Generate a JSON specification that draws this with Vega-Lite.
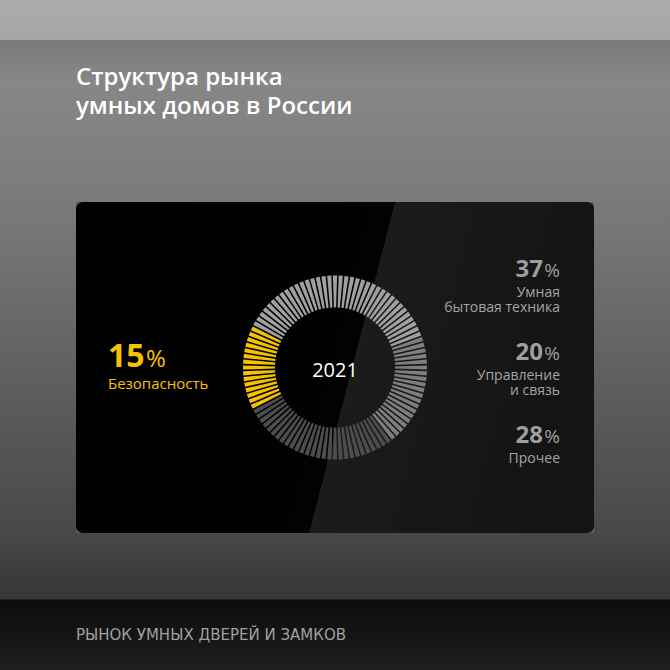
{
  "$schema": "https://vega.github.io/schema/vega-lite/v6.json",
  "padding": 0,
  "background": "#5e5e5e",
  "spacing": 0,
  "config": {"view": {"stroke": null}, "concat": {"spacing": 0}},
  "datasets": {
    "segments": [
      {"cat": "Умная бытовая техника", "i": 1}, {"cat": "Умная бытовая техника", "i": 2}, {"cat": "Умная бытовая техника", "i": 3}, {"cat": "Умная бытовая техника", "i": 4}, {"cat": "Умная бытовая техника", "i": 5},
      {"cat": "Умная бытовая техника", "i": 6}, {"cat": "Умная бытовая техника", "i": 7}, {"cat": "Умная бытовая техника", "i": 8}, {"cat": "Умная бытовая техника", "i": 9}, {"cat": "Умная бытовая техника", "i": 10},
      {"cat": "Умная бытовая техника", "i": 11}, {"cat": "Умная бытовая техника", "i": 12}, {"cat": "Умная бытовая техника", "i": 13}, {"cat": "Умная бытовая техника", "i": 14}, {"cat": "Умная бытовая техника", "i": 15},
      {"cat": "Умная бытовая техника", "i": 16}, {"cat": "Умная бытовая техника", "i": 17}, {"cat": "Умная бытовая техника", "i": 18}, {"cat": "Умная бытовая техника", "i": 19}, {"cat": "Умная бытовая техника", "i": 20},
      {"cat": "Умная бытовая техника", "i": 21}, {"cat": "Умная бытовая техника", "i": 22}, {"cat": "Умная бытовая техника", "i": 23}, {"cat": "Умная бытовая техника", "i": 24}, {"cat": "Умная бытовая техника", "i": 25},
      {"cat": "Умная бытовая техника", "i": 26}, {"cat": "Умная бытовая техника", "i": 27}, {"cat": "Умная бытовая техника", "i": 28}, {"cat": "Умная бытовая техника", "i": 29}, {"cat": "Умная бытовая техника", "i": 30},
      {"cat": "Умная бытовая техника", "i": 31}, {"cat": "Умная бытовая техника", "i": 32}, {"cat": "Умная бытовая техника", "i": 33}, {"cat": "Умная бытовая техника", "i": 34}, {"cat": "Умная бытовая техника", "i": 35},
      {"cat": "Умная бытовая техника", "i": 36}, {"cat": "Умная бытовая техника", "i": 37},
      {"cat": "Управление и связь", "i": 38}, {"cat": "Управление и связь", "i": 39}, {"cat": "Управление и связь", "i": 40}, {"cat": "Управление и связь", "i": 41}, {"cat": "Управление и связь", "i": 42},
      {"cat": "Управление и связь", "i": 43}, {"cat": "Управление и связь", "i": 44}, {"cat": "Управление и связь", "i": 45}, {"cat": "Управление и связь", "i": 46}, {"cat": "Управление и связь", "i": 47},
      {"cat": "Управление и связь", "i": 48}, {"cat": "Управление и связь", "i": 49}, {"cat": "Управление и связь", "i": 50}, {"cat": "Управление и связь", "i": 51}, {"cat": "Управление и связь", "i": 52},
      {"cat": "Управление и связь", "i": 53}, {"cat": "Управление и связь", "i": 54}, {"cat": "Управление и связь", "i": 55}, {"cat": "Управление и связь", "i": 56}, {"cat": "Управление и связь", "i": 57},
      {"cat": "Прочее", "i": 58}, {"cat": "Прочее", "i": 59}, {"cat": "Прочее", "i": 60}, {"cat": "Прочее", "i": 61}, {"cat": "Прочее", "i": 62},
      {"cat": "Прочее", "i": 63}, {"cat": "Прочее", "i": 64}, {"cat": "Прочее", "i": 65}, {"cat": "Прочее", "i": 66}, {"cat": "Прочее", "i": 67},
      {"cat": "Прочее", "i": 68}, {"cat": "Прочее", "i": 69}, {"cat": "Прочее", "i": 70}, {"cat": "Прочее", "i": 71}, {"cat": "Прочее", "i": 72},
      {"cat": "Прочее", "i": 73}, {"cat": "Прочее", "i": 74}, {"cat": "Прочее", "i": 75}, {"cat": "Прочее", "i": 76}, {"cat": "Прочее", "i": 77},
      {"cat": "Прочее", "i": 78}, {"cat": "Прочее", "i": 79}, {"cat": "Прочее", "i": 80}, {"cat": "Прочее", "i": 81}, {"cat": "Прочее", "i": 82},
      {"cat": "Прочее", "i": 83}, {"cat": "Прочее", "i": 84}, {"cat": "Прочее", "i": 85},
      {"cat": "Безопасность", "i": 86}, {"cat": "Безопасность", "i": 87}, {"cat": "Безопасность", "i": 88}, {"cat": "Безопасность", "i": 89}, {"cat": "Безопасность", "i": 90},
      {"cat": "Безопасность", "i": 91}, {"cat": "Безопасность", "i": 92}, {"cat": "Безопасность", "i": 93}, {"cat": "Безопасность", "i": 94}, {"cat": "Безопасность", "i": 95},
      {"cat": "Безопасность", "i": 96}, {"cat": "Безопасность", "i": 97}, {"cat": "Безопасность", "i": 98}, {"cat": "Безопасность", "i": 99}, {"cat": "Безопасность", "i": 100}
    ],
    "labels": [
      {"cat": "Умная бытовая техника", "name": "Умная\nбытовая техника", "pct": 37, "rank": 1},
      {"cat": "Управление и связь", "name": "Управление\nи связь", "pct": 20, "rank": 2},
      {"cat": "Прочее", "name": "Прочее", "pct": 28, "rank": 3},
      {"cat": "Безопасность", "name": "Безопасность", "pct": 15, "rank": 4}
    ],
    "year": [{"year": "2021"}]
  },
  "vconcat": [
    {
      "width": 670,
      "height": 202,
      "view": {
        "stroke": null,
        "fill": {
          "gradient": "linear", "x1": 0, "y1": 0, "x2": 0, "y2": 1,
          "stops": [
            {"offset": 0, "color": "#ababab"},
            {"offset": 0.196, "color": "#a6a6a6"},
            {"offset": 0.199, "color": "#7b7b7b"},
            {"offset": 0.4, "color": "#878787"},
            {"offset": 1, "color": "#7a7a7a"}
          ]
        }
      },
      "title": {
        "text": ["Структура рынка", "умных домов в России"],
        "orient": "top", "anchor": "start", "frame": "group", "baseline": "top",
        "offset": -119, "dx": 76, "font": "Open Sans", "fontSize": 24, "fontWeight": 600,
        "lineHeight": 29, "color": "#ffffff"
      },
      "data": {"values": []},
      "mark": {"type": "point", "opacity": 0},
      "encoding": {}
    },
    {
      "spacing": 0,
      "hconcat": [
        {
          "width": 76,
          "height": 331,
          "view": {
            "stroke": null,
            "fill": {"gradient": "linear", "x1": 0, "y1": 0, "x2": 0, "y2": 1,
              "stops": [{"offset": 0, "color": "#7a7a7a"}, {"offset": 1, "color": "#484848"}]}
          },
          "data": {"values": []},
          "mark": {"type": "point", "opacity": 0},
          "encoding": {}
        },
        {
          "width": 518,
          "height": 331,
          "view": {
            "stroke": null,
            "cornerRadius": 7,
            "fill": {"gradient": "linear", "x1": 0, "y1": 0, "x2": 1, "y2": 0.166,
              "stops": [
                {"offset": 0, "color": "#000000"},
                {"offset": 0.5995, "color": "#020202"},
                {"offset": 0.5996, "color": "#1b1b1b"},
                {"offset": 1, "color": "#141414"}
              ]}
          },
          "layer": [
            {
              "data": {"name": "segments"},
              "mark": {"type": "arc", "radius": 92, "radius2": 60, "padAngle": 0.014},
              "encoding": {
                "theta": {"aggregate": "count", "type": "quantitative", "stack": true,
                  "scale": {"range": [5.1836, 11.4668]}},
                "color": {"field": "cat", "type": "nominal", "legend": null,
                  "scale": {"domain": ["Умная бытовая техника", "Управление и связь", "Прочее", "Безопасность"],
                    "range": ["#a0a0a0", "#7e7e7e", "#4d4d4d", "#f5c200"]}},
                "order": {"field": "i", "type": "quantitative"}
              }
            },
            {
              "data": {"name": "year"},
              "mark": {"type": "text", "baseline": "alphabetic", "dy": 9, "font": "Open Sans", "fontSize": 20, "color": "#ffffff"},
              "encoding": {"text": {"field": "year", "type": "nominal"}}
            },
            {
              "data": {"name": "labels"},
              "mark": {"type": "text", "clip": true, "radius": 227, "align": "left", "baseline": "alphabetic", "dy": -1,
                "font": "Open Sans", "fontSize": 32, "fontWeight": "bold", "color": "#f5c400"},
              "encoding": {
                "theta": {"field": "pct", "type": "quantitative", "stack": true},
                "order": {"field": "rank", "type": "quantitative"},
                "detail": {"field": "cat", "type": "nominal"},
                "text": {"condition": {"test": "datum.cat === 'Безопасность'", "field": "pct", "type": "quantitative"}, "value": ""}
              }
            },
            {
              "data": {"name": "labels"},
              "mark": {"type": "text", "clip": true, "radius": 227, "align": "left", "baseline": "alphabetic", "dy": -1, "dx": 38,
                "font": "Open Sans", "fontSize": 24, "fontWeight": "normal", "color": "#f5c400"},
              "encoding": {
                "theta": {"field": "pct", "type": "quantitative", "stack": true},
                "order": {"field": "rank", "type": "quantitative"},
                "detail": {"field": "cat", "type": "nominal"},
                "text": {"condition": {"test": "datum.cat === 'Безопасность'", "value": "%"}, "value": ""}
              }
            },
            {
              "data": {"name": "labels"},
              "mark": {"type": "text", "clip": true, "radius": 227, "align": "left", "baseline": "alphabetic", "dy": 21,
                "font": "Open Sans", "fontSize": 15, "fontWeight": "normal", "color": "#f5c400"},
              "encoding": {
                "theta": {"field": "pct", "type": "quantitative", "stack": true},
                "order": {"field": "rank", "type": "quantitative"},
                "detail": {"field": "cat", "type": "nominal"},
                "text": {"condition": {"test": "datum.cat === 'Безопасность'", "field": "name", "type": "nominal"}, "value": ""}
              }
            },
            {
              "data": {"name": "labels"},
              "transform": [{"filter": "datum.cat !== 'Безопасность'"}],
              "mark": {"type": "text", "align": "right", "baseline": "alphabetic", "dx": 208,
                "font": "Open Sans", "fontSize": 24, "fontWeight": "bold", "color": "#9e9e9e"},
              "encoding": {
                "y": {"field": "cat", "type": "nominal", "axis": null,
                  "scale": {"type": "point", "padding": 0, "range": [75, 241],
                    "domain": ["Умная бытовая техника", "Управление и связь", "Прочее"]}},
                "text": {"field": "pct", "type": "quantitative"}
              }
            },
            {
              "data": {"name": "labels"},
              "transform": [{"filter": "datum.cat !== 'Безопасность'"}],
              "mark": {"type": "text", "align": "right", "baseline": "alphabetic", "dx": 225,
                "font": "Open Sans", "fontSize": 19, "fontWeight": "normal", "color": "#9e9e9e"},
              "encoding": {
                "y": {"field": "cat", "type": "nominal"},
                "text": {"value": "%"}
              }
            },
            {
              "data": {"name": "labels"},
              "transform": [{"filter": "datum.cat !== 'Безопасность'"}],
              "mark": {"type": "text", "align": "right", "baseline": "alphabetic", "dx": 225, "dy": 20,
                "lineBreak": "\n", "lineHeight": 15,
                "font": "Open Sans", "fontSize": 14, "fontWeight": "normal", "color": "#a4a4a4"},
              "encoding": {
                "y": {"field": "cat", "type": "nominal"},
                "text": {"field": "name", "type": "nominal"}
              }
            }
          ]
        },
        {
          "width": 76,
          "height": 331,
          "view": {
            "stroke": null,
            "fill": {"gradient": "linear", "x1": 0, "y1": 0, "x2": 0, "y2": 1,
              "stops": [{"offset": 0, "color": "#7a7a7a"}, {"offset": 1, "color": "#484848"}]}
          },
          "data": {"values": []},
          "mark": {"type": "point", "opacity": 0},
          "encoding": {}
        }
      ]
    },
    {
      "width": 670,
      "height": 137,
      "view": {
        "stroke": null,
        "fill": {
          "gradient": "linear", "x1": 0, "y1": 0, "x2": 0, "y2": 1,
          "stops": [
            {"offset": 0, "color": "#484848"},
            {"offset": 0.48, "color": "#363636"},
            {"offset": 0.49, "color": "#0c0c0c"},
            {"offset": 1, "color": "#1e1e1e"}
          ]
        }
      },
      "title": {
        "text": "РЫНОК УМНЫХ ДВЕРЕЙ И ЗАМКОВ",
        "orient": "top", "anchor": "start", "frame": "group", "baseline": "alphabetic",
        "offset": -122, "dx": 76, "font": "DejaVu Sans", "fontSize": 15, "fontWeight": "normal",
        "color": "#a0a0a0"
      },
      "data": {"values": []},
      "mark": {"type": "point", "opacity": 0},
      "encoding": {}
    }
  ]
}
